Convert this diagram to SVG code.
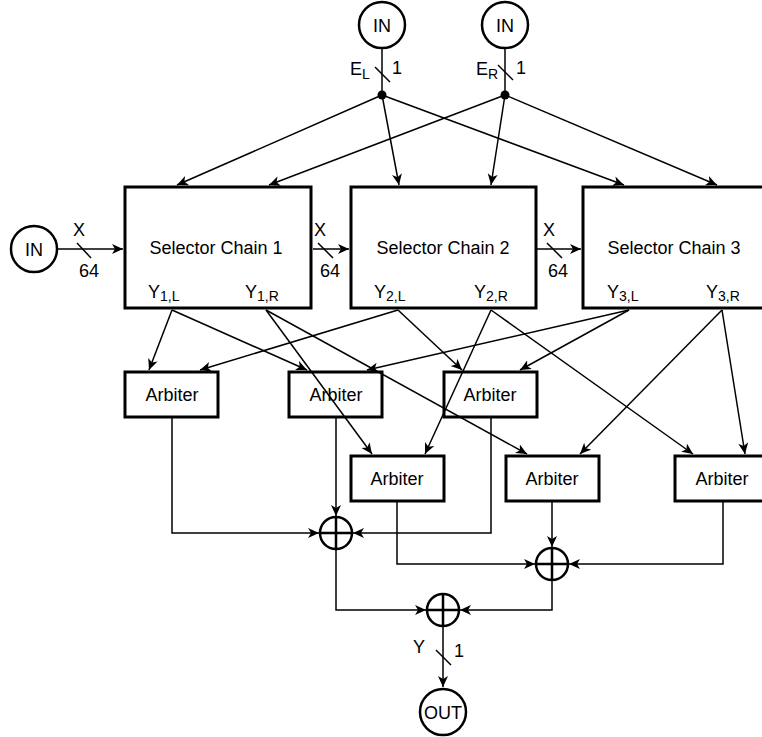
<svg xmlns="http://www.w3.org/2000/svg" width="762" height="737" viewBox="0 0 762 737">
<defs>
<marker id="arr" markerUnits="userSpaceOnUse" markerWidth="13" markerHeight="11" refX="11" refY="5" orient="auto" viewBox="0 0 13 11">
<path d="M0,0 L11,5 L0,10 L3,5 Z" fill="#000"/>
</marker>
</defs>
<style>
text{font-family:"Liberation Sans",Arial,sans-serif;fill:#000}
.box{fill:none;stroke:#000;stroke-width:3}
.circ{fill:#fff;stroke:#000;stroke-width:2.5}
.lbl{font-size:18px;text-anchor:middle}
.c{fill:none;stroke:#000;stroke-width:1.5}
.a{marker-end:url(#arr)}
.sub{font-size:14px}
</style>
<rect width="762" height="737" fill="#fff"/>

<g id="in-el"><circle class="circ" cx="382" cy="25" r="23"/><text class="lbl" x="382" y="31.5" font-size="17">IN</text></g>
<g id="in-er"><circle class="circ" cx="505" cy="25" r="23"/><text class="lbl" x="505" y="31.5" font-size="17">IN</text></g>
<g id="in-x"><circle class="circ" cx="34" cy="249" r="23"/><text class="lbl" x="34" y="255.5" font-size="17">IN</text></g>

<g id="chain1"><rect class="box" x="125" y="187" width="186" height="121"/>
<text class="lbl" x="216" y="254">Selector Chain 1</text>
<text x="148" y="298" font-size="18">Y<tspan class="sub" dy="3">1,L</tspan></text>
<text x="245" y="298" font-size="18">Y<tspan class="sub" dy="3">1,R</tspan></text></g>
<g id="chain2"><rect class="box" x="351" y="187" width="185" height="121"/>
<text class="lbl" x="443" y="254">Selector Chain 2</text>
<text x="374" y="298" font-size="18">Y<tspan class="sub" dy="3">2,L</tspan></text>
<text x="474" y="298" font-size="18">Y<tspan class="sub" dy="3">2,R</tspan></text></g>
<g id="chain3"><rect class="box" x="583" y="187" width="186" height="121"/>
<text class="lbl" x="674" y="254">Selector Chain 3</text>
<text x="607" y="298" font-size="18">Y<tspan class="sub" dy="3">3,L</tspan></text>
<text x="706" y="298" font-size="18">Y<tspan class="sub" dy="3">3,R</tspan></text></g>

<g id="arb1"><rect class="box" x="125" y="372" width="93" height="45"/><text class="lbl" x="172" y="401">Arbiter</text></g>
<g id="arb2"><rect class="box" x="289" y="372" width="93" height="45"/><text class="lbl" x="336" y="401">Arbiter</text></g>
<g id="arb3"><rect class="box" x="444" y="372" width="93" height="45"/><text class="lbl" x="490" y="401">Arbiter</text></g>
<g id="arb4"><rect class="box" x="351" y="456" width="93" height="45"/><text class="lbl" x="397" y="485">Arbiter</text></g>
<g id="arb5"><rect class="box" x="506" y="456" width="93" height="45"/><text class="lbl" x="552" y="485">Arbiter</text></g>
<g id="arb6"><rect class="box" x="675" y="456" width="93" height="45"/><text class="lbl" x="722" y="485">Arbiter</text></g>

<g id="sum1"><circle class="circ" cx="336" cy="533" r="16"/><path d="M320,533 H352 M336,517 V549" stroke="#000" stroke-width="2.5"/></g>
<g id="sum2"><circle class="circ" cx="552" cy="564" r="16"/><path d="M536,564 H568 M552,548 V580" stroke="#000" stroke-width="2.5"/></g>
<g id="sum3"><circle class="circ" cx="443" cy="610" r="16"/><path d="M427,610 H459 M443,594 V626" stroke="#000" stroke-width="2.5"/></g>

<g id="out"><circle class="circ" cx="443" cy="712" r="23"/><text class="lbl" x="443" y="719" font-size="19">OUT</text></g>

<g id="connectors">
<path class="c" d="M382,48 V95"/>
<path class="c" d="M505,48 V95"/>
<circle cx="382" cy="95" r="4.5" fill="#000"/>
<circle cx="505" cy="95" r="4.5" fill="#000"/>
<path class="c a" d="M382,95 L177,185"/>
<path class="c a" d="M382,95 L399,185"/>
<path class="c a" d="M382,95 L624,185"/>
<path class="c a" d="M505,95 L269,185"/>
<path class="c a" d="M505,95 L491,185"/>
<path class="c a" d="M505,95 L717,185"/>
<path class="c a" d="M57,249 H123"/>
<path class="c a" d="M313,249 H349"/>
<path class="c a" d="M537,249 H581"/>
<path class="c a" d="M172,310 L149,370"/>
<path class="c a" d="M172,310 L307,370"/>
<path class="c a" d="M266,310 L372,454"/>
<path class="c a" d="M266,310 L527,454"/>
<path class="c a" d="M398,310 L200,370"/>
<path class="c a" d="M398,310 L462,370"/>
<path class="c a" d="M491,310 L425,454"/>
<path class="c a" d="M491,310 L693,454"/>
<path class="c a" d="M629,310 L367,370"/>
<path class="c a" d="M629,310 L520,370"/>
<path class="c a" d="M722,310 L580,454"/>
<path class="c a" d="M722,310 L745,454"/>
<path class="c a" d="M172,418 V533 H319"/>
<path class="c a" d="M336,418 V516"/>
<path class="c a" d="M491,418 V533 H353"/>
<path class="c a" d="M397,502 V564 H535"/>
<path class="c a" d="M552,502 V547"/>
<path class="c a" d="M723,502 V564 H569"/>
<path class="c a" d="M336,549 V610 H426"/>
<path class="c a" d="M552,580 V610 H460"/>
<path class="c a" d="M443,626 V687"/>
<path class="c" d="M375,67 L390,82"/>
<path class="c" d="M498,65 L513,80"/>
<path class="c" d="M77,243 L91,258"/>
<path class="c" d="M318,243 L333,258"/>
<path class="c" d="M547,243 L562,258"/>
<path class="c" d="M436,650 L451,665"/>
<text x="350" y="75" font-size="18">E<tspan class="sub" dy="4">L</tspan></text>
<text x="392" y="74" font-size="18">1</text>
<text x="476" y="75" font-size="18">E<tspan class="sub" dy="4">R</tspan></text>
<text x="516" y="74" font-size="18">1</text>
<text class="lbl" x="79" y="236">X</text>
<text class="lbl" x="89" y="277">64</text>
<text class="lbl" x="320" y="236">X</text>
<text class="lbl" x="330" y="277">64</text>
<text class="lbl" x="549" y="236">X</text>
<text class="lbl" x="558" y="277">64</text>
<text class="lbl" x="419" y="653">Y</text>
<text class="lbl" x="459" y="657">1</text>
</g>
</svg>
